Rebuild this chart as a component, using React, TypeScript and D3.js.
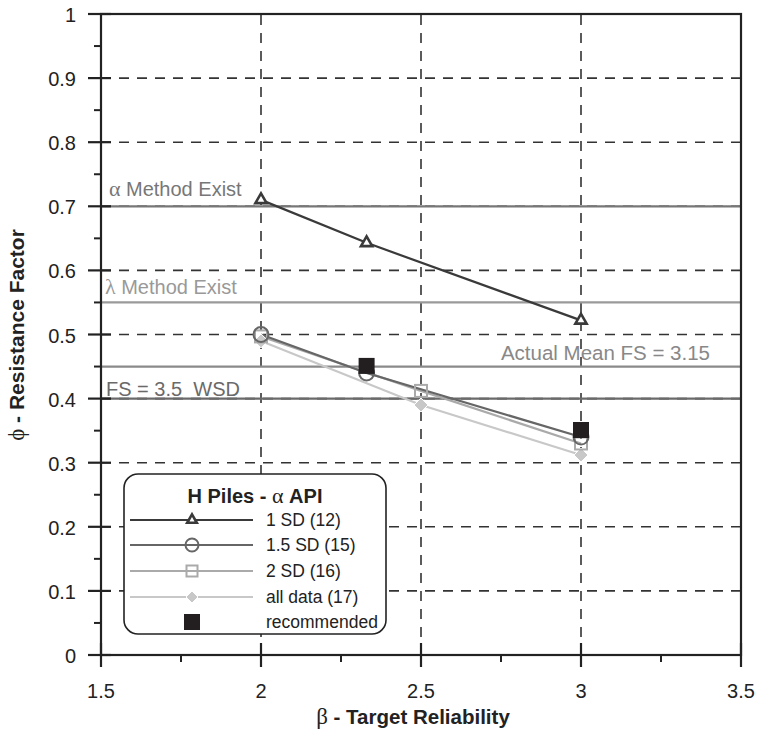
import React from "react";
import * as d3 from "d3";

const xTicks = [1.5, 2, 2.5, 3, 3.5];
const xTickLabels = ["1.5", "2", "2.5", "3", "3.5"];
const yTicks = [0, 0.1, 0.2, 0.3, 0.4, 0.5, 0.6, 0.7, 0.8, 0.9, 1];
const yTickLabels = ["0", "0.1", "0.2", "0.3", "0.4", "0.5", "0.6", "0.7", "0.8", "0.9", "1"];

const sd1X = [2, 2.33, 3];
const sd1Y = [0.71, 0.643, 0.522];
const sd15X = [2, 2.33, 3];
const sd15Y = [0.5, 0.44, 0.34];
const sd2X = [2, 2.5, 3];
const sd2Y = [0.497, 0.412, 0.33];
const allX = [2, 2.5, 3];
const allY = [0.49, 0.39, 0.312];
const recX = [2.33, 3];
const recY = [0.451, 0.351];

const refValues = [0.7, 0.55, 0.45, 0.4];
const refLabels = ["Method Exist", "Method Exist", "Actual Mean FS = 3.15", "FS = 3.5  WSD"];
const refGreek = ["α ", "λ ", "", ""];

const legendLabels = ["1 SD (12)", "1.5 SD (15)", "2 SD (16)", "all data (17)", "recommended"];

const FONT = "'Liberation Sans', Arial, Helvetica, sans-serif";
const GREEK = "'Liberation Serif', 'Times New Roman', serif";

export default function App() {
  const x = d3.scaleLinear().domain([1.5, 3.5]).range([101, 741]);
  const y = d3.scaleLinear().domain([0, 1]).range([655, 14]);
  const line = (xs: number[], ys: number[]) =>
    d3.line<number>().x((_, i) => x(xs[i])).y((d) => y(d))(ys) || "";

  const tri = (cx: number, cy: number, s: number, color: string, key: string) => (
    <path key={key} d={d3.symbol(d3.symbolTriangle, s)() || ""} transform={`translate(${cx},${cy})`} fill="white" stroke={color} strokeWidth={2.6} />
  );
  const circ = (cx: number, cy: number, r: number, color: string, key: string) => (
    <circle key={key} cx={cx} cy={cy} r={r} fill="none" stroke={color} strokeWidth={2} />
  );
  const sq = (cx: number, cy: number, h: number, color: string, key: string, filled = false) => (
    <rect key={key} x={cx - h} y={cy - h} width={2 * h} height={2 * h} fill={filled ? color : "none"} stroke={color} strokeWidth={filled ? 0 : 2} />
  );
  const dia = (cx: number, cy: number, h: number, color: string, key: string) => (
    <path key={key} d={`M${cx},${cy - h}L${cx + h},${cy}L${cx},${cy + h}L${cx - h},${cy}Z`} fill={color} stroke="white" strokeWidth={1} />
  );

  const c1 = "#3a3a3a";
  const c15 = "#666";
  const c2 = "#aaa";
  const cAll = "#c8c8c8";
  const cRec = "#231f20";
  const refColors = ["#777", "#9a9a9a", "#8a8a8a", "#6a6a6a"];

  const minorY = d3.range(0, 1.001, 0.05).filter((v) => Math.abs(v * 10 - Math.round(v * 10)) > 0.1);
  const minorX = [1.75, 2.25, 2.75, 3.25];

  const legendRows = [520, 545, 571, 597, 622];

  return (
    <svg width={760} height={732} style={{ position: "absolute", left: 0, top: 0, background: "white" }}>
      <rect x={0} y={0} width={760} height={732} fill="white" />
      {/* grid */}
      {yTicks.slice(1, -1).map((v) => (
        <line key={"gy" + v} x1={x(1.5)} x2={x(3.5)} y1={y(v)} y2={y(v)} stroke="#333" strokeWidth={1.6} strokeDasharray="10,8" />
      ))}
      {xTicks.slice(1, -1).map((v) => (
        <line key={"gx" + v} x1={x(v)} x2={x(v)} y1={y(0)} y2={y(1)} stroke="#333" strokeWidth={1.6} strokeDasharray="10,8" />
      ))}
      {/* reference lines */}
      {refValues.map((v, i) => (
        <line key={"r" + v} x1={x(1.5)} x2={x(3.5)} y1={y(v)} y2={y(v)} stroke={refColors[i]} strokeWidth={2.2} />
      ))}
      <text x={109} y={196} fontFamily={FONT} fontSize={20} fill="#777">
        <tspan fontFamily={GREEK} fontSize={22}>{refGreek[0]}</tspan>{refLabels[0]}
      </text>
      <text x={105} y={y(0.55) - 8} fontFamily={FONT} fontSize={20} fill="#999">
        <tspan fontFamily={GREEK} fontSize={22}>{refGreek[1]}</tspan>{refLabels[1]}
      </text>
      <text x={710} y={360} textAnchor="end" fontFamily={FONT} fontSize={20.5} fill="#888">
        {refLabels[2]}
      </text>
      <text x={106} y={396} fontFamily={FONT} fontSize={20} fill="#6a6a6a" style={{ whiteSpace: "pre" }}>
        {refLabels[3]}
      </text>

      {/* series lines */}
      <path d={line(allX, allY)} fill="none" stroke={cAll} strokeWidth={2.2} />
      <path d={line(sd2X, sd2Y)} fill="none" stroke={c2} strokeWidth={2.2} />
      <path d={line(sd15X, sd15Y)} fill="none" stroke={c15} strokeWidth={2.2} />
      <path d={line(sd1X, sd1Y)} fill="none" stroke={c1} strokeWidth={2.2} />
      {allX.map((v, i) => dia(x(v), y(allY[i]), 7, cAll, "a" + i))}
      {sd2X.map((v, i) => sq(x(v), y(sd2Y[i]), 6, c2, "s" + i))}
      {sd15X.map((v, i) => circ(x(v), y(sd15Y[i]), 7.5, c15, "c" + i))}
      {sd1X.map((v, i) => tri(x(v), y(sd1Y[i]), 55, c1, "t" + i))}
      {recX.map((v, i) => sq(x(v), y(recY[i]), 8, cRec, "r" + i, true))}

      {/* axes frame */}
      <rect x={x(1.5)} y={y(1)} width={x(3.5) - x(1.5)} height={y(0) - y(1)} fill="none" stroke="#222" strokeWidth={2.2} />
      {yTicks.map((v) => (
        <line key={"yt" + v} x1={x(1.5) - 13} x2={x(1.5) + 10} y1={y(v)} y2={y(v)} stroke="#222" strokeWidth={2.2} />
      ))}
      {minorY.map((v) => (
        <line key={"ym" + v} x1={x(1.5) - 7} x2={x(1.5)} y1={y(v)} y2={y(v)} stroke="#222" strokeWidth={2} />
      ))}
      {xTicks.map((v) => (
        <line key={"xt" + v} x1={x(v)} x2={x(v)} y1={y(0) - 12} y2={y(0) + 12} stroke="#222" strokeWidth={2.2} />
      ))}
      {minorX.map((v) => (
        <line key={"xm" + v} x1={x(v)} x2={x(v)} y1={y(0)} y2={y(0) + 7} stroke="#222" strokeWidth={2} />
      ))}
      {yTicks.map((v, i) => (
        <text key={"yl" + v} x={76} y={y(v) + 8} textAnchor="end" fontFamily={FONT} fontSize={20} fill="#222">
          {yTickLabels[i]}
        </text>
      ))}
      {xTicks.map((v, i) => (
        <text key={"xl" + v} x={x(v)} y={698} textAnchor="middle" fontFamily={FONT} fontSize={20} fill="#222">
          {xTickLabels[i]}
        </text>
      ))}
      <text x={413} y={724} textAnchor="middle" fontFamily={FONT} fontSize={20.5} fontWeight="bold" fill="#222">
        <tspan fontFamily={GREEK} fontWeight="normal" fontSize={23}>β</tspan> - Target Reliability
      </text>
      <text transform="translate(24,335) rotate(-90)" textAnchor="middle" fontFamily={FONT} fontSize={21} fontWeight="bold" fill="#222">
        <tspan fontFamily={GREEK} fontWeight="normal" fontSize={23}>ϕ</tspan> - Resistance Factor
      </text>

      {/* legend */}
      <rect x={124} y={474} width={262} height={160} rx={14} ry={14} fill="white" stroke="#222" strokeWidth={1.6} />
      <text x={255} y={503} textAnchor="middle" fontFamily={FONT} fontSize={20} fontWeight="bold" fill="#222">
        H Piles - <tspan fontFamily={GREEK} fontWeight="normal" fontSize={22}>α</tspan> API
      </text>
      {[c1, c15, c2, cAll].map((c, i) => (
        <line key={"ll" + i} x1={130} x2={253} y1={legendRows[i]} y2={legendRows[i]} stroke={c} strokeWidth={2.2} />
      ))}
      {tri(192, legendRows[0], 40, c1, "lt")}
      {circ(192, legendRows[1], 6.5, c15, "lc")}
      {sq(192, legendRows[2], 5.5, c2, "ls")}
      {dia(192, legendRows[3], 6, cAll, "ld")}
      {sq(192, legendRows[4], 8, cRec, "lr", true)}
      {legendLabels.map((l, i) => (
        <text key={"lg" + i} x={266} y={legendRows[i] + 6} fontFamily={FONT} fontSize={17.5} fill="#222">
          {l}
        </text>
      ))}
    </svg>
  );
}
